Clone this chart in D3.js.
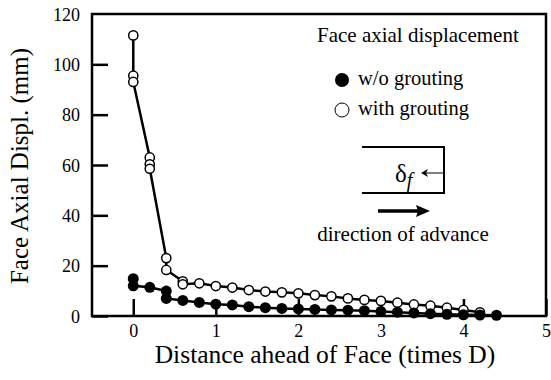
<!DOCTYPE html>
<html><head><meta charset="utf-8">
<script src="https://cdn.jsdelivr.net/npm/d3@7"></script>
<style>body{margin:0;background:#fff}svg{display:block}text{font-family:"Liberation Serif","Times New Roman",serif;fill:#000}</style>
</head><body><svg id="c" width="551" height="380"></svg>
<script>
const xTicks = [0,1,2,3,4,5];
const yTicks = [0,20,40,60,80,100,120];
const seriesNames = ["w/o grouting","with grouting"];
// w/o grouting (filled)
const woX = [0,0,0.2,0.4,0.4,0.6,0.8,1.0,1.2,1.4,1.6,1.8,2.0,2.2,2.4,2.6,2.8,3.0,3.2,3.4,3.6,3.8,4.0,4.2,4.4];
const woY = [14.8,12,11.4,9.9,7.0,6.2,5.4,4.7,4.4,3.7,3.3,3.0,2.8,2.6,2.4,2.3,2.1,1.8,1.5,1.2,0.9,0.7,0.5,0.4,0.3];
// with grouting (open)
const wgX = [0,0,0,0.2,0.2,0.2,0.4,0.4,0.6,0.6,0.8,1.0,1.2,1.4,1.6,1.8,2.0,2.2,2.4,2.6,2.8,3.0,3.2,3.4,3.6,3.8,4.0,4.2];
const wgY = [111.5,95.5,93,63,60.3,58.5,23,18.3,13.8,12.6,13,11.9,11.3,10.3,9.7,9.4,9.0,8.3,7.8,7.0,6.4,6.0,5.3,4.6,4.1,3.3,2.4,1.5];

const FONT = "Liberation Serif, Times New Roman, serif";
const svg = d3.select("#c");
const L=92,R=546,T=14,B=316;
const x = d3.scaleLinear().domain([-0.5,5]).range([L,R]);
const y = d3.scaleLinear().domain([0,120]).range([B,T]);

// frame
svg.append("rect").attr("x",L).attr("y",T).attr("width",R-L).attr("height",B-T)
  .attr("fill","none").attr("stroke","#000").attr("stroke-width",2.5);

// axes with inward ticks
const gx = svg.append("g").attr("transform",`translate(0,${B})`)
  .call(d3.axisBottom(x).tickValues(xTicks).tickSize(-17).tickPadding(8).tickFormat(d3.format("d")));
const gy = svg.append("g").attr("transform",`translate(${L},0)`)
  .call(d3.axisLeft(y).tickValues(yTicks).tickSize(-16).tickPadding(28).tickFormat(d3.format("d")));
[gx,gy].forEach(g=>{
  g.attr("font-family",FONT).attr("font-size",18);
  g.select(".domain").remove();
  g.selectAll(".tick line").attr("stroke","#000").attr("stroke-width",2.5);
  g.selectAll(".tick text").attr("font-family",FONT).attr("font-size",18).attr("fill","#000");
});
gy.selectAll(".tick text").attr("dx","16").attr("dy","0.35em");
gx.selectAll(".tick text").attr("dy","0.71em");
gy.selectAll(".tick").filter(d=>d===120).select("line").remove();

const line = d3.line().x(d=>x(d[0])).y(d=>y(d[1]));
const wo = woX.map((v,i)=>[v,woY[i]]);
const wg = wgX.map((v,i)=>[v,wgY[i]]);

svg.append("path").datum(wg).attr("d",line).attr("fill","none").attr("stroke","#000").attr("stroke-width",2.5);
svg.append("path").datum(wo).attr("d",line).attr("fill","none").attr("stroke","#000").attr("stroke-width",2.5);

svg.append("g").selectAll("circle").data(wg).join("circle")
  .attr("cx",d=>x(d[0])).attr("cy",d=>y(d[1])).attr("r",4.6)
  .attr("fill","#fff").attr("stroke","#000").attr("stroke-width",1.5);
svg.append("g").selectAll("circle").data(wo).join("circle")
  .attr("cx",d=>x(d[0])).attr("cy",d=>y(d[1])).attr("r",5.5).attr("fill","#000");

function txt(x0,y0,size,s,anchor){
  return svg.append("text").attr("x",x0).attr("y",y0).attr("font-family",FONT)
    .attr("font-size",size).attr("text-anchor",anchor||"start").text(s);
}
// axis titles
txt((L+R)/2+6,363,25.5,"Distance ahead of Face (times D)","middle");
svg.append("text").attr("transform","translate(28,166) rotate(-90)").attr("text-anchor","middle")
  .attr("font-family",FONT).attr("font-size",25).text("Face Axial Displ. (mm)");

// legend
txt(317,42,21,"Face axial displacement");
svg.append("circle").attr("cx",342).attr("cy",80).attr("r",7).attr("fill","#000");
txt(358,85,20.5,seriesNames[0]);
svg.append("circle").attr("cx",342).attr("cy",110).attr("r",7).attr("fill","#fff").attr("stroke","#000").attr("stroke-width",1);
txt(358,115,20.5,seriesNames[1]);

// face sketch
svg.append("path").attr("d","M362,147H444V193H362").attr("fill","none").attr("stroke","#000").attr("stroke-width",2);
svg.append("path").attr("d","M443,173H424").attr("stroke","#000").attr("stroke-width",1);
svg.append("path").attr("d","M421,173l7,-4l-2,4l2,4z").attr("fill","#000");
const df = svg.append("text").attr("x",395).attr("y",182).attr("font-family",FONT).attr("font-size",25);
df.append("tspan").text("δ");
df.append("tspan").attr("font-style","italic").attr("dy","5").attr("font-size",20).text("f");
svg.append("path").attr("d","M378,211H418").attr("stroke","#000").attr("stroke-width",3.5);
svg.append("path").attr("d","M430,211l-14,-6l2,6l-2,6z").attr("fill","#000");
txt(403,241,21,"direction of advance","middle");
</script></body></html>
